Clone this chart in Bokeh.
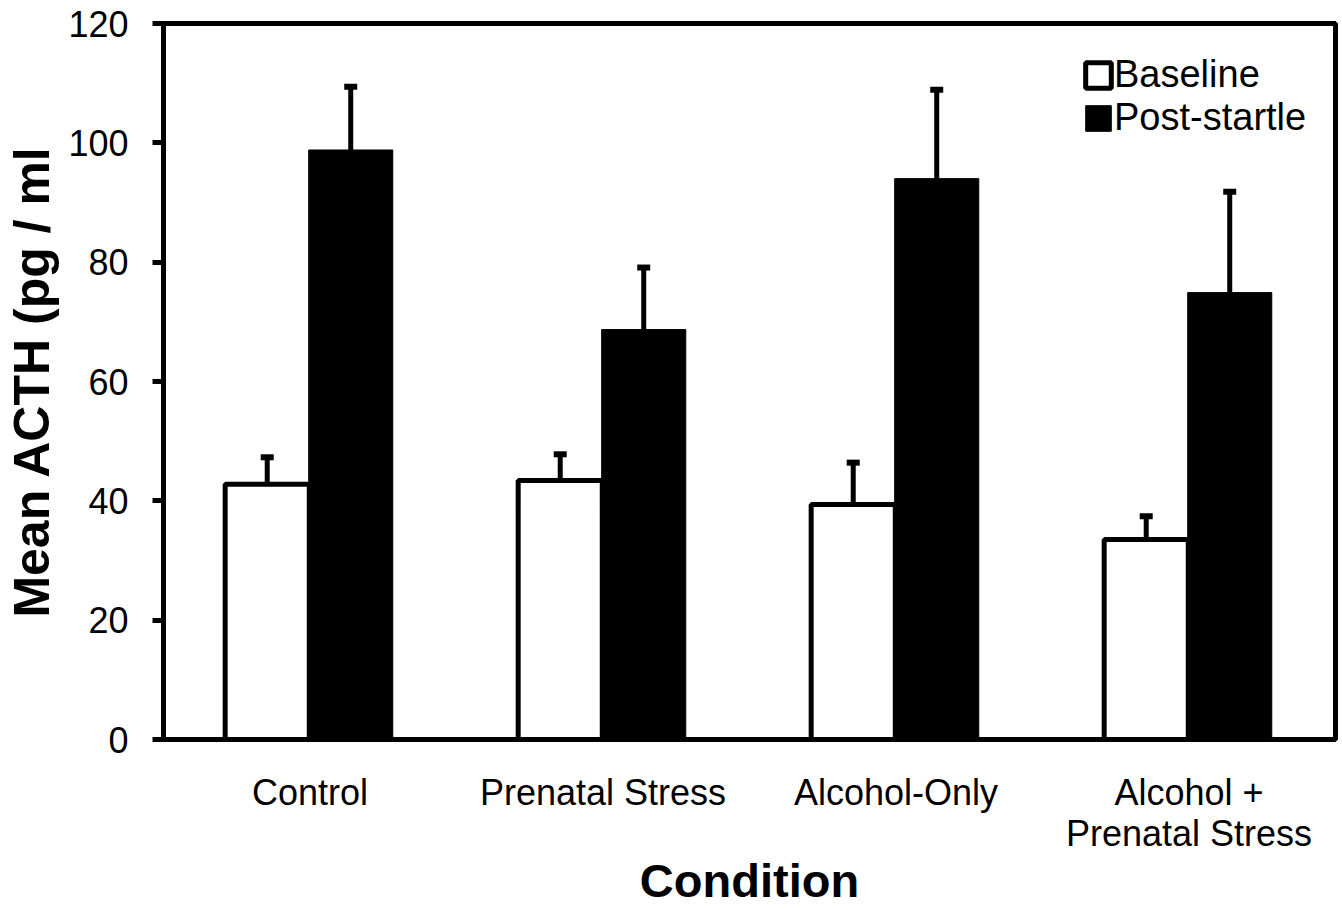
from bokeh.plotting import figure
from bokeh.models import ColumnDataSource, Range1d, FixedTicker, Whisker, TeeHead, FactorRange
from bokeh.transform import dodge
from bokeh.embed import file_html
from bokeh.resources import INLINE

conditions = ["Control", "Prenatal Stress", "Alcohol-Only", "Alcohol +\nPrenatal Stress"]
baseline = [42.8, 43.4, 39.4, 33.5]
baseline_upper = [47.3, 47.8, 46.4, 37.4]
post_startle = [98.8, 68.7, 94.0, 74.9]
post_upper = [109.4, 79.1, 108.9, 91.8]
y_ticks = [0, 20, 40, 60, 80, 100, 120]

FONT = "Liberation Sans"

src = ColumnDataSource(dict(cond=conditions, baseline=baseline, b_up=baseline_upper,
                            post=post_startle, p_up=post_upper))

p = figure(x_range=FactorRange(*conditions), y_range=Range1d(0, 120),
           width=1340, height=909, output_backend="svg", toolbar_location=None,
           min_border_left=163, min_border_right=5, min_border_top=23, min_border_bottom=165)

B_OFF, P_OFF, W = -0.146, 0.139, 0.287

p.vbar(x=dodge("cond", B_OFF, range=p.x_range), top="baseline", width=W, source=src,
       fill_color="white", line_color="black", line_width=5, legend_label="Baseline")
p.vbar(x=dodge("cond", P_OFF, range=p.x_range), top="post", width=W, source=src,
       fill_color="black", line_color="black", line_width=1, legend_label="Post-startle")

for off, lo, up in [(B_OFF, "baseline", "b_up"), (P_OFF, "post", "p_up")]:
    w = Whisker(base=dodge("cond", off, range=p.x_range), lower=lo, upper=up, source=src,
                line_color="black", line_width=5, lower_head=None,
                upper_head=TeeHead(size=13, line_width=6, line_color="black"),
                level="annotation")
    p.add_layout(w)

p.xgrid.visible = False
p.ygrid.visible = False
p.outline_line_color = "black"
p.outline_line_width = 5
p.background_fill_color = "white"
p.border_fill_color = "white"

yax = p.yaxis[0]
yax.ticker = FixedTicker(ticks=y_ticks)
yax.axis_label = "Mean ACTH (pg / ml"
yax.axis_label_text_font = FONT
yax.axis_label_text_font_style = "bold"
yax.axis_label_text_font_size = "50px"
yax.axis_label_text_color = "black"
yax.axis_label_standoff = 5
yax.major_label_text_font = FONT
yax.major_label_text_font_size = "36px"
yax.major_label_text_color = "black"
yax.major_label_standoff = 24
yax.major_tick_out = 11
yax.major_tick_in = 0
yax.major_tick_line_width = 5
yax.major_tick_line_color = "black"
yax.minor_tick_line_color = None
yax.axis_line_width = 5
yax.axis_line_color = "black"

xax = p.xaxis[0]
xax.axis_label = "Condition"
xax.axis_label_text_font = FONT
xax.axis_label_text_font_style = "bold"
xax.axis_label_text_font_size = "47px"
xax.axis_label_text_color = "black"
xax.axis_label_standoff = -3
xax.major_label_text_font = FONT
xax.major_label_text_font_size = "36px"
xax.major_label_text_color = "black"
xax.major_label_text_line_height = 1.0
xax.major_label_standoff = 26
xax.major_tick_line_color = None
xax.axis_line_width = 5
xax.axis_line_color = "black"

lg = p.legend[0]
lg.location = (919, 600)
lg.background_fill_alpha = 0
lg.border_line_color = None
lg.padding = 0
lg.margin = 0
lg.spacing = 0
lg.glyph_width = 32
lg.glyph_height = 32
lg.label_standoff = 0
lg.label_text_font = FONT
lg.label_text_font_size = "38px"
lg.label_text_color = "black"

open("out.html", "w").write(file_html(p, INLINE))
